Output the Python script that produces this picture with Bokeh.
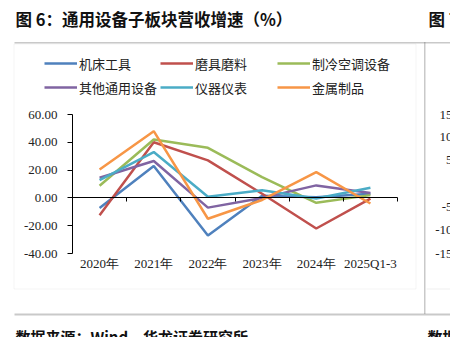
from bokeh.plotting import figure
from bokeh.models import (Range1d, LinearAxis, FixedTicker, NumeralTickFormatter,
                          Legend, LegendItem, Label, BoxAnnotation)
from bokeh.embed import file_html
from bokeh.resources import INLINE

categories = ["2020年", "2021年", "2022年", "2023年", "2024年", "2025Q1-3"]
series_names = ["机床工具", "磨具磨料", "制冷空调设备", "其他通用设备", "仪器仪表", "金属制品"]
jichuang = [-7.2, 23.0, -27.0, 1.5, 0.5, 3.0]
moju = [-12.5, 40.0, 27.0, 3.0, -22.0, -0.5]
zhileng = [8.7, 42.0, 36.0, 15.0, -3.5, 2.0]
qita = [14.5, 26.5, -7.0, 0.0, 9.0, 3.5]
yiqi = [12.8, 33.0, 0.8, 5.5, -0.5, 7.3]
jinshu = [20.5, 48.0, -15.0, -1.5, 18.5, -4.0]
y_ticks = [-40, -20, 0, 20, 40, 60]
right_ticks = ["15", "10", "5", "-5", "-10", "-15"]
right_tick_vals = [60, 43.5, 27, -6.5, -23, -40]

colors = ["#4F81BD", "#C0504D", "#9BBB59", "#8064A2", "#4BACC6", "#F79646"]
all_series = [jichuang, moju, zhileng, qita, yiqi, jinshu]

W, H = 450, 337
# plot-area placement in canvas pixels
PL, PR, PT, PB = 72, 397, 114, 253
ncat = len(categories)
ymin, ymax = y_ticks[0], y_ticks[-1]
xpx = (PR - PL) / ncat
ypx = (PB - PT) / (ymax - ymin)
x_start = -PL / xpx
x_end = ncat + (W - PR) / xpx
y_end = ymax + PT / ypx
y_start = ymin - (H - PB) / ypx

xs = [i + 0.5 for i in range(ncat)]

p = figure(width=W, height=H, output_backend="svg", toolbar_location=None,
           x_range=Range1d(x_start, x_end), y_range=Range1d(y_start, y_end),
           min_border=0, x_axis_type=None, y_axis_type=None)
p.outline_line_color = None
p.xgrid.visible = False
p.ygrid.visible = False
p.background_fill_color = "white"
p.border_fill_color = "white"

# y axis
yax = LinearAxis(ticker=FixedTicker(ticks=y_ticks), formatter=NumeralTickFormatter(format="0.00"),
                 fixed_location=0, bounds=(ymin, ymax))
yax.axis_line_color = "black"
yax.major_tick_line_color = "black"
yax.major_tick_out = 5
yax.major_tick_in = 0
yax.minor_tick_line_color = None
yax.major_label_standoff = 10
yax.major_label_text_font = "Liberation Serif"
yax.major_label_text_font_size = "13px"
yax.major_label_text_color = "#222222"
p.add_layout(yax, "left")

# x labels at bottom of plot area
xlab = LinearAxis(ticker=FixedTicker(ticks=xs),
                  major_label_overrides={x: c for x, c in zip(xs, categories)},
                  fixed_location=ymin, bounds=(0, ncat))
xlab.axis_line_color = None
xlab.major_tick_line_color = None
xlab.minor_tick_line_color = None
xlab.major_tick_out = 0
xlab.major_tick_in = 0
xlab.major_label_standoff = 2
xlab.major_label_text_font = "Liberation Serif"
xlab.major_label_text_font_size = "13px"
xlab.major_label_text_color = "#222222"
p.add_layout(xlab, "below")

# zero axis line with category boundary ticks
bticks = list(range(1, ncat + 1))
zax = LinearAxis(ticker=FixedTicker(ticks=bticks), fixed_location=0, bounds=(0, ncat),
                 major_label_overrides={t: "" for t in bticks})
zax.axis_line_color = "black"
zax.major_tick_line_color = "black"
zax.major_tick_in = 0
zax.major_tick_out = 4
zax.minor_tick_line_color = None
p.add_layout(zax, "below")

renderers = []
for vals, col in zip(all_series, colors):
    r = p.line(xs, vals, line_color=col, line_width=2.5)
    renderers.append(r)

# screen units: frame == canvas, origin at bottom-left
def sy(cy):
    return H - cy

# legends: three columns
for ci in range(3):
    items = [LegendItem(label=series_names[ci], renderers=[renderers[ci]]),
             LegendItem(label=series_names[ci + 3], renderers=[renderers[ci + 3]])]
    x0 = [44, 160, 277][ci]
    lg = Legend(items=items, location=(x0, sy(97)), orientation="vertical",
                glyph_width=33, glyph_height=20, label_height=20, label_standoff=2,
                spacing=4, padding=0, margin=0, border_line_color=None,
                background_fill_alpha=0, label_text_font="Noto Sans CJK SC",
                label_text_font_size="13px", label_text_color="#222222")
    p.add_layout(lg, "center")

def sbox(l, r, t, b, **kw):
    p.add_layout(BoxAnnotation(left=l, right=r, top=sy(t), bottom=sy(b), left_units="screen",
                               right_units="screen", top_units="screen", bottom_units="screen", **kw))

sbox(13.5, 415.5, 43.5, 288.5, fill_alpha=0, line_color="#d9d9d9", line_width=1)
sbox(426, 450, 288, 289, fill_color="#d9d9d9", line_color=None)
sbox(14, 450, 41.5, 43, fill_color="#777777", line_color=None)
sbox(423.5, 425, 41.5, 313.5, fill_color="#777777", line_color=None)
sbox(14, 450, 313, 315, fill_color="#777777", line_color=None)

def slabel(x, cy, text, **kw):
    p.add_layout(Label(x=x, y=sy(cy), x_units="screen", y_units="screen", text=text, **kw))

slabel(15, 18, "图 6：通用设备子板块营收增速（%）", text_font="Noto Sans CJK SC",
       text_font_style="bold", text_font_size="16.5px", text_baseline="middle", text_color="#111111")
slabel(428, 18, "图 7", text_font="Noto Sans CJK SC",
       text_font_style="bold", text_font_size="16.5px", text_baseline="middle", text_color="#111111")
slabel(15, 325, "数据来源：Wind，华龙证券研究所", text_font="Noto Sans CJK SC",
       text_font_style="bold", text_font_size="15px", text_baseline="top", text_color="#111111")
slabel(427, 325, "数据", text_font="Noto Sans CJK SC",
       text_font_style="bold", text_font_size="15px", text_baseline="top", text_color="#111111")

for t, v in zip(right_ticks, right_tick_vals):
    p.add_layout(Label(x=452, y=v, x_units="screen", y_units="data", text=t,
                       text_font="Liberation Serif", text_font_size="13px",
                       text_align="right", text_baseline="middle", text_color="#222222"))

open("out.html", "w").write(file_html(p, INLINE))
